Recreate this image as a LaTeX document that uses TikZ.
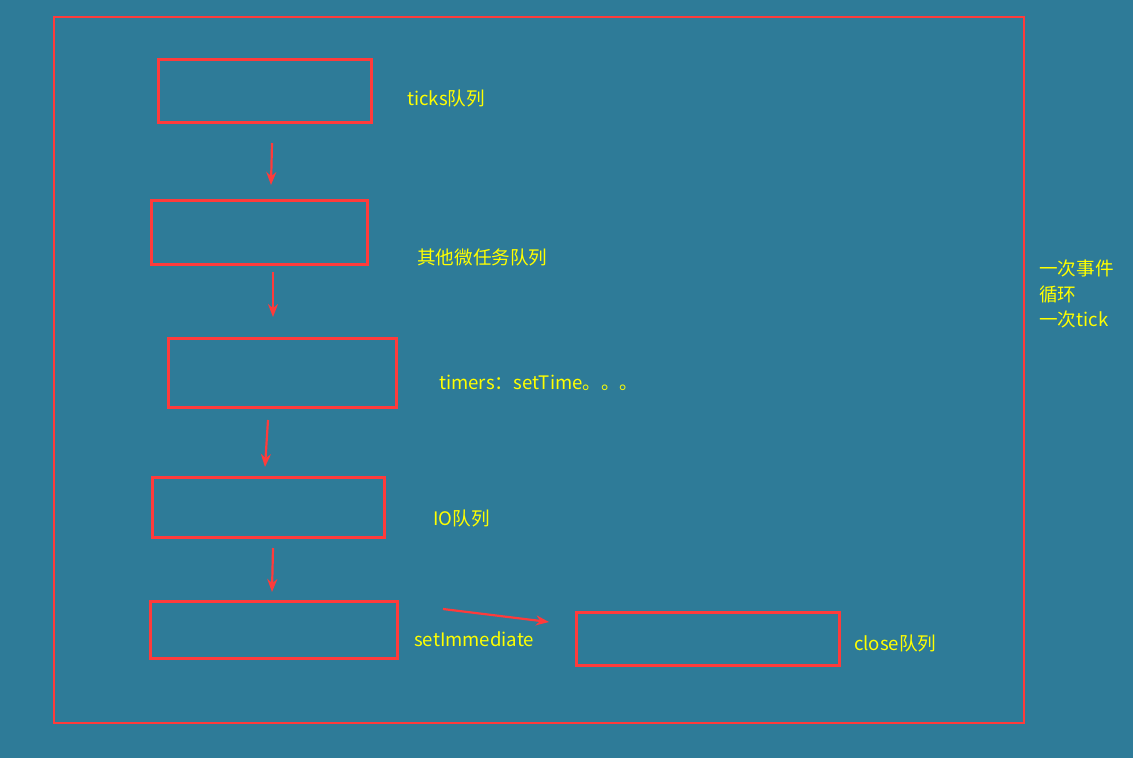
\documentclass[tikz,border=0pt]{standalone}
\usepackage{fontspec}
\setmainfont{Noto Sans CJK SC}
\usetikzlibrary{arrows.meta}
\definecolor{bgblue}{RGB}{46,123,152}
\definecolor{boxred}{RGB}{255,59,59}
\definecolor{txtyellow}{RGB}{255,255,0}
\tikzset{
  queuebox/.style={draw=boxred, line width=3pt, anchor=north west, inner sep=0pt},
  label/.style={text=txtyellow, anchor=west, inner sep=0pt, font=\fontsize{18.6}{25.5}\selectfont},
  arr/.style={draw=boxred, line width=2.2pt, -{Stealth[length=13pt,width=10pt]}}
}
\begin{document}
\begin{tikzpicture}[x=1pt,y=-1pt]
				\fill[bgblue] (0,0) rectangle (1133,758);
				\useasboundingbox (0,0) rectangle (1133,758);
				
				\draw[boxred, line width=2pt] (54,17) rectangle (1024,723);
				
				\node[queuebox, minimum width=213pt, minimum height=63pt] (ticks) at (157,58) {};
				\node[queuebox, minimum width=216pt, minimum height=64pt] (micro) at (150,199) {};
				\node[queuebox, minimum width=228pt, minimum height=69pt] (timers) at (167,337) {};
				\node[queuebox, minimum width=232pt, minimum height=60pt] (io) at (151,476) {};
				\node[queuebox, minimum width=247pt, minimum height=57pt] (check) at (149,600) {};
				\node[queuebox, minimum width=263pt, minimum height=53pt] (close) at (575,611) {};
				
				\node[label] (ticksl) at (407,98) {ticks队列};
				\node[label] (microl) at (417,257) {其他微任务队列};
				\node[label] (timersl) at (439,383) {timers：setTime。。。};
				\node[label] (iol) at (433,518) {IO队列};
				\node[label] (checkl) at (414,639) {setImmediate};
				\node[label] (closel) at (854,643) {close队列};
				\node[label, align=left] (loopl) at (1039,294) {一次事件\\循环\\一次tick};
				
				\coordinate (a1) at (272,143);
				\coordinate (b1) at (271,185);
				\coordinate (a2) at (273,272);
				\coordinate (b2) at (273,317);
				\coordinate (a3) at (268,420);
				\coordinate (b3) at (265,467);
				\coordinate (a4) at (273,548);
				\coordinate (b4) at (272,592);
				\coordinate (a5) at (443,609);
				\coordinate (b5) at (549,622);
				\draw[arr] (a1) -- (b1);
				\draw[arr] (a2) -- (b2);
				\draw[arr] (a3) -- (b3);
				\draw[arr] (a4) -- (b4);
				\draw[arr] (a5) -- (b5);
			\end{tikzpicture}
\end{document}
